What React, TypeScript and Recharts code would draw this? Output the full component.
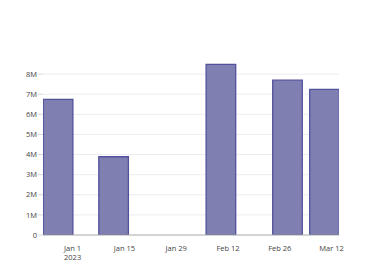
import { BarChart, Bar, XAxis, YAxis, CartesianGrid } from 'recharts'

const dates = ['2022-12-28', '2023-01-12', '2023-02-10', '2023-02-28', '2023-03-10']
const values = [6740000, 3890000, 8480000, 7700000, 7240000]
const xTicks = ['2023-01-01', '2023-01-15', '2023-01-29', '2023-02-12', '2023-02-26', '2023-03-12']
const xTickLabels = ['Jan 1\n2023', 'Jan 15', 'Jan 29', 'Feb 12', 'Feb 26', 'Mar 12']
const yTicks = [0, 1000000, 2000000, 3000000, 4000000, 5000000, 6000000, 7000000, 8000000]

const toTime = (d: string) => new Date(d + 'T00:00:00Z').getTime()

const data = dates.map((d, i) => ({ t: toTime(d), value: values[i] }))
const tickTimes = xTicks.map(toTime)

const FONT = '"Open Sans", verdana, arial, sans-serif'

function DateTick(props: any) {
  const { x, y, payload } = props
  const idx = tickTimes.indexOf(payload.value)
  const lines = (xTickLabels[idx] ?? '').split('\n')
  return (
    <text x={x} y={y} textAnchor="middle" fill="#444" fontSize={7.5} fontFamily={FONT}>
      {lines.map((l, i) => (
        <tspan key={i} x={x} dy={i === 0 ? 8 : 8.5}>
          {l}
        </tspan>
      ))}
    </text>
  )
}

export default function App() {
  return (
    <div style={{ position: 'absolute', left: 0, top: 0, background: '#fff' }}>
      <BarChart
        width={380}
        height={280}
        data={data}
        margin={{ top: 56, right: 41, bottom: 15, left: 0 }}
      >
        <CartesianGrid vertical={false} horizontalValues={yTicks.slice(1)} stroke="#ececf2" />
        <XAxis
          dataKey="t"
          type="number"
          domain={[toTime('2022-12-24'), toTime('2023-03-14')]}
          ticks={tickTimes}
          interval={0}
          tick={<DateTick />}
          tickLine={false}
          axisLine={{ stroke: '#a8a8a8' }}
          height={30}
          allowDataOverflow
        />
        <YAxis
          type="number"
          domain={[0, 8900000]}
          ticks={yTicks}
          interval={0}
          tickFormatter={(v: number) => (v === 0 ? '0' : `${v / 1000000}M`)}
          tick={{ fill: '#444', fontSize: 7.5, fontFamily: FONT }}
          tickLine={{ stroke: '#d8d8d8' }}
          tickSize={5}
          tickMargin={1}
          axisLine={false}
          width={43}
          allowDataOverflow
        />
        <Bar
          dataKey="value"
          barSize={29.6}
          fill="#7f7fb1"
          stroke="#52529d"
          strokeWidth={1.3}
          isAnimationActive={false}
        />
      </BarChart>
    </div>
  )
}
